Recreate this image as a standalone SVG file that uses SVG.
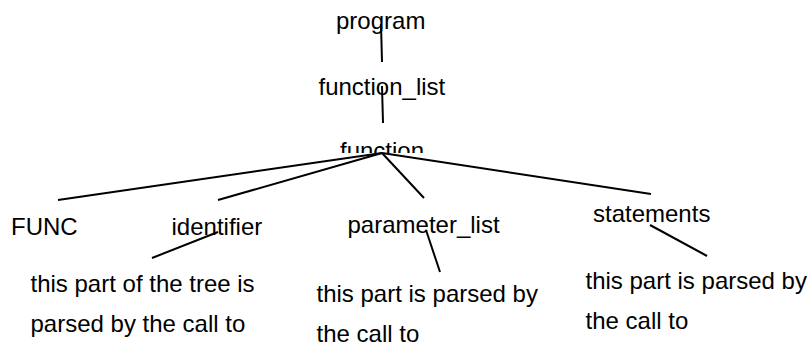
<svg xmlns="http://www.w3.org/2000/svg" width="807" height="350" viewBox="0 0 807 350">
<style>
text{font-family:"Liberation Sans",Arial,sans-serif;font-size:24px;fill:#000}
.c line{stroke:#000;stroke-width:2;stroke-linecap:butt}
</style>
<defs>
<clipPath id="clipFn"><rect x="300" y="120" width="160" height="33"/></clipPath>
</defs>
<rect width="807" height="350" fill="#fff"/>
<g id="n-program"><text x="336" y="29">program</text></g>
<g id="n-function_list"><text x="318.5" y="95">function_list</text></g>
<g id="n-function" clip-path="url(#clipFn)"><text x="340" y="159">function</text></g>
<g id="n-FUNC"><text x="11" y="235">FUNC</text></g>
<g id="n-identifier"><text x="171.5" y="235">identifier</text></g>
<g id="n-parameter_list"><text x="347.5" y="233">parameter_list</text></g>
<g id="n-statements"><text x="593" y="222">statements</text></g>
<g id="n-note1"><text x="30.5" y="292">this part of the tree is</text><text x="30.5" y="332">parsed by the call to</text></g>
<g id="n-note2"><text x="316.5" y="302">this part is parsed by</text><text x="316.5" y="342">the call to</text></g>
<g id="n-note3"><text x="585.5" y="289">this part is parsed by</text><text x="585.5" y="329">the call to</text></g>
<g id="connectors" class="c">
<line x1="381" y1="24" x2="382" y2="62"/>
<line x1="382" y1="86" x2="383" y2="123"/>
<line x1="382" y1="153" x2="58" y2="200"/>
<line x1="382" y1="153" x2="218" y2="200"/>
<line x1="382" y1="153" x2="424" y2="198"/>
<line x1="382" y1="153" x2="651" y2="194"/>
<line x1="218" y1="232" x2="152" y2="258"/>
<line x1="426" y1="230" x2="440" y2="272"/>
<line x1="650" y1="225" x2="707" y2="256"/>
</g>
</svg>
